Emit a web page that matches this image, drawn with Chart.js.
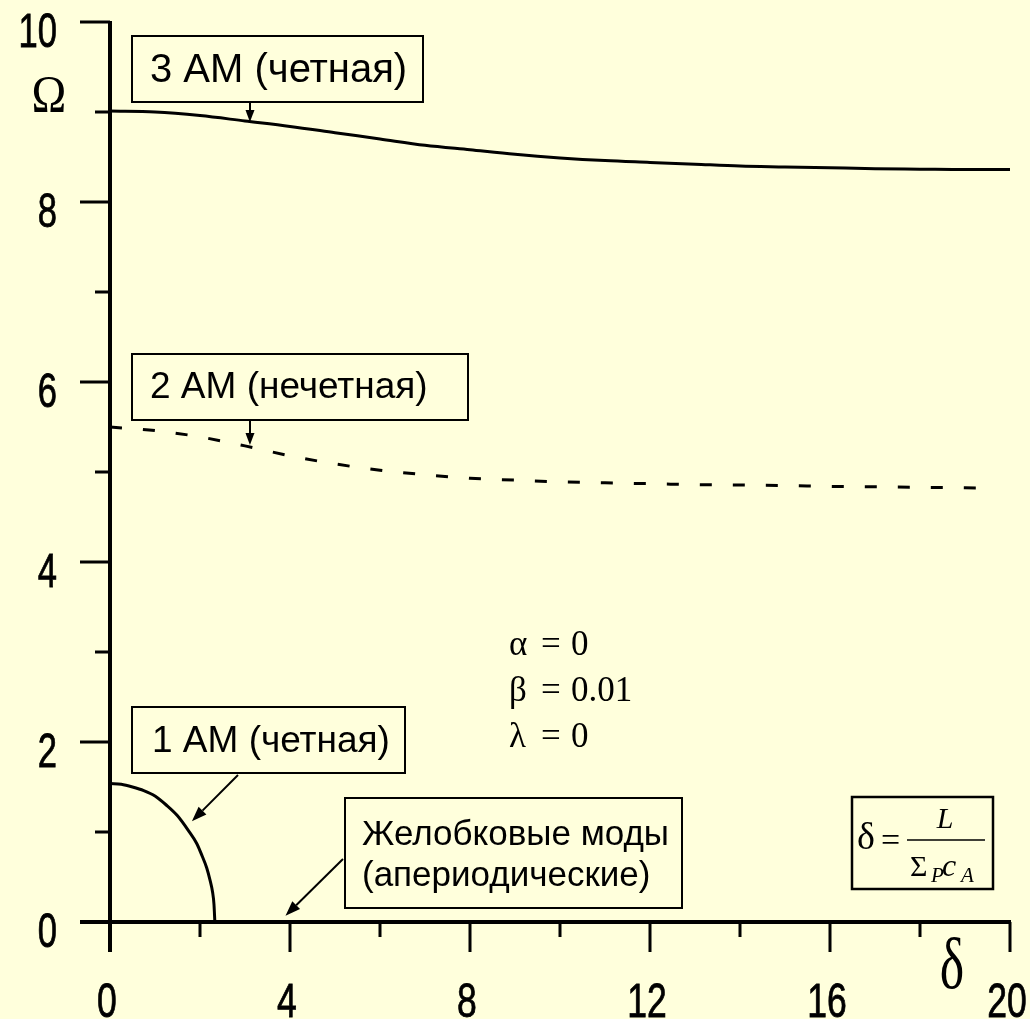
<!DOCTYPE html>
<html>
<head>
<meta charset="utf-8">
<script src="https://cdn.jsdelivr.net/npm/chart.js@4.4.1/dist/chart.umd.min.js"></script>
<style>
  html, body { margin: 0; padding: 0; background: #FFFFDC; }
  canvas { display: block; }
</style>
</head>
<body>
<canvas id="chart" width="1030" height="1019"></canvas>
<script>
// Mode 3 AM (even)
const delta3 = [0, 1, 2, 3, 4, 5, 6, 7, 8, 9, 10, 11, 12, 13, 14, 15, 16, 17, 18, 19, 20];
const omega3 = [9.01, 9.00, 8.96, 8.90, 8.84, 8.77, 8.70, 8.63, 8.58, 8.53, 8.49, 8.46, 8.44, 8.42, 8.40, 8.39, 8.38, 8.37, 8.365, 8.36, 8.36];
// Mode 2 AM (odd)
const delta2 = [0, 1, 2, 3, 4, 5, 6, 7, 8, 9, 10, 11, 12, 13, 14, 15, 16, 17, 18, 19, 19.6];
const omega2 = [5.50, 5.46, 5.39, 5.29, 5.18, 5.09, 5.02, 4.97, 4.93, 4.91, 4.89, 4.88, 4.87, 4.86, 4.855, 4.85, 4.84, 4.835, 4.83, 4.825, 4.82];
// Mode 1 AM (even)
const delta1 = [0, 0.25, 0.5, 0.75, 1.0, 1.25, 1.5, 1.75, 1.93, 2.05, 2.15, 2.22, 2.28, 2.31, 2.33];
const omega1 = [1.54, 1.53, 1.50, 1.46, 1.40, 1.30, 1.18, 1.01, 0.87, 0.73, 0.60, 0.47, 0.33, 0.20, 0];

// Axis ticks
const xMajorTicks = [0, 4, 8, 12, 16, 20];
const xMinorTicks = [2, 6, 10, 14, 18];
const yMajorTicks = [0, 2, 4, 6, 8, 10];
const yMinorTicks = [1, 3, 5, 7, 9];

// Texts
const modeLabels = ['3 AM (четная)', '2 AM (нечетная)', '1 AM (четная)'];
const troughLabel = ['Желобковые моды', '(апериодические)'];
const paramLabels = [['α', '0'], ['β', '0.01'], ['λ', '0']];

const BG = '#FFFFDC';
const SANS = '"Liberation Sans", Arial, sans-serif';
const SERIF = '"Liberation Serif", "Times New Roman", serif';

const toXY = (xs, ys) => xs.map((v, i) => ({ x: v, y: ys[i] }));

function narrowText(ctx, txt, x, y, align, font, sx, weight) {
  ctx.save();
  ctx.font = font;
  ctx.textBaseline = 'alphabetic';
  ctx.textAlign = align;
  ctx.translate(x, y);
  ctx.scale(sx, 1);
  ctx.fillText(txt, 0, 0);
  if (weight) {
    ctx.lineWidth = weight;
    ctx.strokeText(txt, 0, 0);
  }
  ctx.restore();
}

function box(ctx, l, t, r, b, lw) {
  ctx.save();
  ctx.fillStyle = BG;
  ctx.fillRect(l, t, r - l, b - t);
  ctx.lineWidth = lw;
  ctx.strokeStyle = '#000';
  ctx.strokeRect(l, t, r - l, b - t);
  ctx.restore();
}

function arrow(ctx, x1, y1, x2, y2, headLen, headW, lw) {
  const a = Math.atan2(y2 - y1, x2 - x1);
  const bx = x2 - headLen * Math.cos(a), by = y2 - headLen * Math.sin(a);
  ctx.save();
  ctx.strokeStyle = '#000';
  ctx.fillStyle = '#000';
  ctx.lineWidth = lw;
  ctx.beginPath();
  ctx.moveTo(x1, y1);
  ctx.lineTo(bx, by);
  ctx.stroke();
  ctx.beginPath();
  ctx.moveTo(x2, y2);
  ctx.lineTo(bx + headW / 2 * Math.sin(a), by - headW / 2 * Math.cos(a));
  ctx.lineTo(bx - headW / 2 * Math.sin(a), by + headW / 2 * Math.cos(a));
  ctx.closePath();
  ctx.fill();
  ctx.restore();
}

const paper = {
  id: 'paper',
  beforeDraw(chart) {
    const { ctx, width, height } = chart;
    ctx.save();
    ctx.fillStyle = BG;
    ctx.fillRect(0, 0, width, height);
    ctx.restore();
  }
};

const axes = {
  id: 'axes',
  beforeDatasetsDraw(chart) {
    const { ctx, scales: { x, y } } = chart;
    const x0 = x.getPixelForValue(0), y0 = y.getPixelForValue(0);
    const major = 30, minor = 15;
    ctx.save();
    ctx.strokeStyle = '#000';
    ctx.lineCap = 'butt';
    // axis lines
    ctx.lineWidth = 4;
    ctx.beginPath();
    ctx.moveTo(x0, y.getPixelForValue(10) - 1);
    ctx.lineTo(x0, y0 + major);
    ctx.moveTo(x0 - major, y0);
    ctx.lineTo(x.getPixelForValue(20) + 1, y0);
    ctx.stroke();
    // ticks
    ctx.lineWidth = 3;
    ctx.beginPath();
    yMajorTicks.forEach(v => { const p = y.getPixelForValue(v); ctx.moveTo(x0 - major, p); ctx.lineTo(x0, p); });
    yMinorTicks.forEach(v => { const p = y.getPixelForValue(v); ctx.moveTo(x0 - minor, p); ctx.lineTo(x0, p); });
    xMajorTicks.forEach(v => { const p = x.getPixelForValue(v); ctx.moveTo(p, y0); ctx.lineTo(p, y0 + major); });
    xMinorTicks.forEach(v => { const p = x.getPixelForValue(v); ctx.moveTo(p, y0); ctx.lineTo(p, y0 + minor); });
    ctx.stroke();
    ctx.restore();

    // tick labels (condensed digits)
    ctx.save();
    ctx.fillStyle = '#000';
    ctx.strokeStyle = '#000';
    const f = '48px ' + SANS;
    yMajorTicks.forEach(v => narrowText(ctx, String(v), 57, y.getPixelForValue(v) + 25, 'right', f, 0.72, 0.8));
    xMajorTicks.forEach(v => narrowText(ctx, String(v), x.getPixelForValue(v) - 3, 1017, 'center', f, 0.74, 0.8));
    // axis titles
    narrowText(ctx, 'Ω', 49, 112, 'center', '52px ' + SERIF, 0.9);
    narrowText(ctx, 'δ', 952, 988, 'center', '72px ' + SERIF, 0.72);
    ctx.restore();
  }
};

const notes = {
  id: 'notes',
  afterDatasetsDraw(chart) {
    const { ctx, scales: { x, y } } = chart;

    // mode label boxes
    box(ctx, 132, 36, 423, 102, 2);
    box(ctx, 132, 354, 468, 420, 2);
    box(ctx, 132, 707, 405, 773, 2);
    box(ctx, 345, 798, 682, 908, 2);
    ctx.save();
    ctx.fillStyle = '#000';
    ctx.textAlign = 'left';
    ctx.textBaseline = 'alphabetic';
    ctx.font = '40px ' + SANS;
    ctx.fillText(modeLabels[0], 150, 82);
    ctx.font = '37px ' + SANS;
    ctx.fillText(modeLabels[1], 150, 398);
    ctx.fillText(modeLabels[2], 152, 752);
    ctx.font = '35px ' + SANS;
    ctx.fillText(troughLabel[0], 362, 845);
    ctx.fillText(troughLabel[1], 362, 886);
    ctx.restore();

    // pointers to the curves
    arrow(ctx, 250, 102, x.getPixelForValue(3.11), y.getPixelForValue(8.89), 12, 9, 2);
    arrow(ctx, 250, 420, x.getPixelForValue(3.11), y.getPixelForValue(5.30), 12, 9, 2);
    arrow(ctx, 238, 775, x.getPixelForValue(1.82), y.getPixelForValue(1.12), 15, 11, 2);
    arrow(ctx, 343, 859, x.getPixelForValue(3.9), y.getPixelForValue(0.07), 15, 11, 2);

    // parameters
    ctx.save();
    ctx.fillStyle = '#000';
    ctx.font = '35px ' + SERIF;
    ctx.textBaseline = 'alphabetic';
    ctx.textAlign = 'left';
    const bases = [655, 701, 747];
    paramLabels.forEach((p, i) => {
      ctx.fillText(p[0], 509, bases[i]);
      ctx.fillText('=', 541, bases[i]);
      ctx.fillText(p[1], 571, bases[i]);
    });
    ctx.restore();

    // definition of delta
    box(ctx, 852, 797, 993, 889, 2.5);
    ctx.save();
    ctx.fillStyle = '#000';
    ctx.strokeStyle = '#000';
    ctx.textBaseline = 'alphabetic';
    ctx.textAlign = 'left';
    ctx.font = '38px ' + SERIF;
    ctx.fillText('δ', 857, 849);
    ctx.font = '34px ' + SERIF;
    ctx.fillText('=', 881, 851);
    ctx.lineWidth = 1.5;
    ctx.beginPath();
    ctx.moveTo(907, 840);
    ctx.lineTo(985, 840);
    ctx.stroke();
    ctx.font = 'italic 30px ' + SERIF;
    ctx.textAlign = 'center';
    ctx.fillText('L', 945, 828);
    ctx.textAlign = 'left';
    ctx.font = '30px ' + SERIF;
    ctx.fillText('Σ', 910, 876);
    ctx.font = 'italic 21px ' + SERIF;
    ctx.fillText('P', 931, 882);
    ctx.font = 'italic 32px ' + SERIF;
    ctx.fillText('c', 942, 876);
    ctx.font = 'italic 21px ' + SERIF;
    ctx.fillText('A', 961, 882);
    ctx.restore();
  }
};

new Chart(document.getElementById('chart'), {
  type: 'line',
  data: {
    datasets: [
      {
        label: '3 AM',
        data: toXY(delta3, omega3),
        borderColor: '#000',
        borderWidth: 3,
        pointRadius: 0,
        cubicInterpolationMode: 'monotone',
        fill: false
      },
      {
        label: '2 AM',
        data: toXY(delta2, omega2),
        borderColor: '#000',
        borderWidth: 3,
        borderDash: [12, 21],
        pointRadius: 0,
        cubicInterpolationMode: 'monotone',
        fill: false
      },
      {
        label: '1 AM',
        data: toXY(delta1, omega1),
        borderColor: '#000',
        borderWidth: 3,
        pointRadius: 0,
        cubicInterpolationMode: 'monotone',
        fill: false
      }
    ]
  },
  options: {
    responsive: false,
    animation: false,
    devicePixelRatio: 1,
    layout: { padding: { left: 110, right: 20, top: 22, bottom: 97 } },
    plugins: { legend: { display: false }, tooltip: { enabled: false } },
    scales: {
      x: { type: 'linear', min: 0, max: 20, display: false },
      y: { type: 'linear', min: 0, max: 10, display: false }
    }
  },
  plugins: [paper, axes, notes]
});
</script>
</body>
</html>
